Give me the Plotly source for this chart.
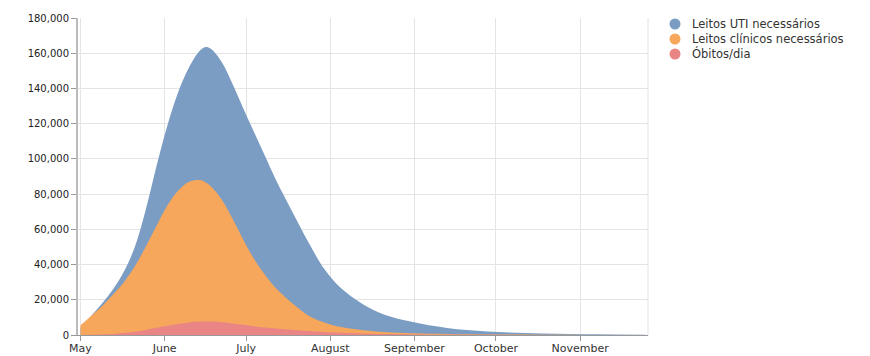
import plotly.graph_objects as go

dates = ["2020-05-01", "2020-05-05", "2020-05-09", "2020-05-13", "2020-05-17", "2020-05-21",
         "2020-05-25", "2020-05-29", "2020-06-02", "2020-06-06", "2020-06-10", "2020-06-14",
         "2020-06-16", "2020-06-18", "2020-06-22", "2020-06-26", "2020-06-30", "2020-07-04",
         "2020-07-08", "2020-07-12", "2020-07-18", "2020-07-24", "2020-07-30", "2020-08-05",
         "2020-08-13", "2020-08-21", "2020-08-31", "2020-09-13", "2020-09-28", "2020-10-18",
         "2020-11-07", "2020-11-25"]

leitos_uti = [4000, 11000, 18000, 26000, 36000, 50000, 71000, 96000, 119000, 138000, 152000, 161500,
              163500, 162500, 155000, 142500, 128500, 115000, 101500, 88000, 70000, 52500, 37000, 26500,
              17500, 11500, 7500, 4000, 2000, 900, 400, 200]

leitos_clinicos = [5500, 11000, 16500, 23000, 30000, 39000, 50000, 62000, 73500, 82000, 87000, 88000,
                   86800, 84500, 77000, 66000, 54000, 43000, 34000, 26500, 18000, 11000, 7000, 4500,
                   2700, 1700, 1000, 600, 300, 150, 50, 0]

obitos = [0, 100, 300, 600, 1100, 1900, 2900, 4100, 5300, 6300, 7100, 7600,
          7700, 7700, 7300, 6600, 5800, 5000, 4300, 3700, 3000, 2300, 1700, 1300,
          900, 600, 350, 180, 80, 30, 10, 0]

series_names = ["Leitos UTI necessários", "Leitos clínicos necessários", "Óbitos/dia"]
series_values = [leitos_uti, leitos_clinicos, obitos]
colors = ["#7b9dc3", "#f6a75c", "#ea8585"]

y_ticks = [0, 20000, 40000, 60000, 80000, 100000, 120000, 140000, 160000, 180000]
x_ticks = ["2020-05-01", "2020-06-01", "2020-07-01", "2020-08-01", "2020-09-01", "2020-10-01", "2020-11-01"]
x_tick_labels = ["May", "June", "July", "August", "September", "October", "November"]

# page has an 8px body margin: figure is 862x348 placed at (8, 8)
W, H = 862, 348
L, T, R, B = 70, 10, 222, 21
pw, ph = W - L - R, H - T - B

def px(x):  # page x -> paper x
    return (x - 8 - L) / pw

def py(y):  # page y -> paper y
    return (H - B - (y - 8)) / ph

fig = go.Figure()
for name, vals, col in zip(series_names, series_values, colors):
    fig.add_trace(go.Scatter(
        x=dates, y=vals, mode="lines", fill="tozeroy",
        line=dict(color=col, width=0, shape="spline", smoothing=1.0),
        fillcolor=col, showlegend=False, name=name))

shapes = [dict(type="line", xref="paper", yref="paper", x0=1, x1=1, y0=0, y1=1,
               line=dict(color="#e2e2e2", width=1))]
annotations = []
for i, (name, col) in enumerate(zip(series_names, colors)):
    cy = 24 + 15 * i
    shapes.append(dict(type="circle", xref="paper", yref="paper",
                       x0=px(669.5), x1=px(680.5), y0=py(cy + 5.5), y1=py(cy - 5.5),
                       fillcolor=col, line=dict(width=0)))
    annotations.append(dict(xref="paper", yref="paper", x=px(690), y=py(cy),
                            xanchor="left", yanchor="middle", showarrow=False,
                            text=name, font=dict(size=11.5, color="#333")))

fig.update_layout(
    width=W, height=H,
    margin=dict(l=L, r=R, t=T, b=B, autoexpand=False),
    paper_bgcolor="white", plot_bgcolor="white",
    font=dict(family="DejaVu Sans, sans-serif", size=10, color="#222"),
    showlegend=False,
    shapes=shapes, annotations=annotations,
)
fig.update_xaxes(
    type="date", range=["2020-04-30T02:00", "2020-11-26"],
    tickvals=x_ticks, ticktext=x_tick_labels, automargin=False,
    showgrid=True, gridcolor="#e4e4e4", gridwidth=1,
    showline=True, linecolor="#999", linewidth=1,
    ticks="outside", ticklen=5, tickcolor="#999",
    tickfont=dict(size=11, color="#333"), zeroline=False)
try:
    fig.update_xaxes(ticklabelstandoff=-2)
except Exception:
    fig.update_xaxes(ticklen=3)
fig.update_yaxes(
    range=[0, 180000], tickvals=y_ticks, tickformat=",", automargin=False,
    showgrid=True, gridcolor="#e4e4e4", gridwidth=1,
    showline=True, linecolor="#bbb", linewidth=2,
    ticks="outside", ticklen=5, tickcolor="#999",
    tickfont=dict(size=10, color="#222"), zeroline=False)

fig.write_html("out.html")
